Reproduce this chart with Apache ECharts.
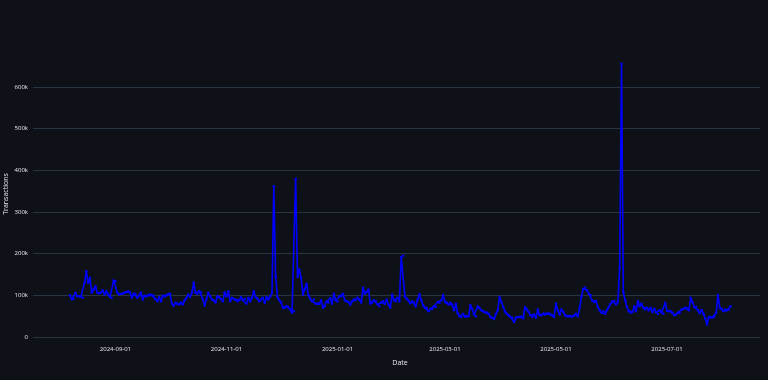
<!DOCTYPE html>
<html>
<head>
<meta charset="utf-8">
<script src="https://cdn.jsdelivr.net/npm/echarts@6/dist/echarts.min.js"></script>
<style>
html,body{margin:0;padding:0;background:#0e1117;}
#chart{width:768px;height:380px;}
</style>
</head>
<body>
<div id="chart"></div>
<script>
// Daily transactions, first day 2024-08-07 (values in thousands)
const startDate = '2024-08-07';
const transactionsK = [
100,90,92,106,98,98,97,94,130,158,
130,142,106,114,122,106,105,106,112,102,
110,102,96,94,136,134,107,102,104,104,
107,108,110,107,94,104,103,94,99,107,
90,99,98,100,102,100,99,91,86,96,
86,99,98,100,103,104,80,75,82,80,
78,83,78,88,94,102,96,106,131,106,
104,110,107,91,75,91,106,98,90,88,
83,98,96,91,86,107,98,110,86,94,
91,90,86,88,96,88,91,80,94,86,
95,110,96,93,86,90,94,82,96,90,
98,106,362,145,96,88,83,70,70,74,
72,66,58,62,379,144,162,142,102,115,
128,100,92,86,90,80,80,80,88,70,
74,85,83,93,80,104,88,85,97,98,
104,88,86,84,78,86,90,89,94,90,
83,118,104,108,114,80,82,88,86,78,
74,83,86,80,90,78,70,102,88,86,
94,86,192,195,98,92,87,81,86,83,
74,90,103,88,76,70,70,62,67,67,
74,72,84,82,88,101,84,83,78,82,
78,64,80,57,50,48,55,49,50,50,
76,67,54,50,73,70,64,62,59,59,
56,48,46,43,55,64,96,84,72,61,
55,52,48,46,36,46,48,48,49,45,
72,66,60,52,48,54,46,66,52,52,
56,54,56,57,54,52,48,80,64,54,
66,60,52,50,50,50,49,51,56,50,
70,97,116,118,113,104,100,87,84,86,
72,64,58,62,56,64,72,80,86,86,
78,84,166,656,107,88,72,62,58,60,
74,62,86,74,80,70,66,70,64,70,
60,68,59,55,64,59,56,82,63,62,
62,58,52,54,58,58,66,67,70,69,
64,94,84,72,72,64,57,65,56,45,
30,48,47,47,49,58,101,70,68,62,
66,64,66,74
];
const xTickLabels = ['2024-09-01','2024-11-01','2025-01-01','2025-03-01','2025-05-01','2025-07-01'];
const yTicks = [0,100000,200000,300000,400000,500000,600000];
const xRange = ['2024-07-17T17:00:00Z','2025-08-21T02:00:00Z'];

const DAY = 86400000;
const t0 = Date.parse(startDate + 'T00:00:00Z');
const seriesData = transactionsK.map((v, i) => [t0 + i * DAY, v * 1000]);
const xTickValues = xTickLabels.map(s => Date.parse(s + 'T00:00:00Z'));

function fmtDate(v) {
  const d = new Date(v);
  const p = n => (n < 10 ? '0' : '') + n;
  return d.getUTCFullYear() + '-' + p(d.getUTCMonth() + 1) + '-' + p(d.getUTCDate());
}

const chart = echarts.init(document.getElementById('chart'), null, {renderer: 'canvas'});
const textColor = '#e8eaf0';
chart.setOption({
  backgroundColor: '#0e1117',
  animation: false,
  textStyle: {fontFamily: 'Open Sans'},
  grid: {left: 33, right: 8, top: 87, bottom: 43, outerBoundsMode: 'none', containLabel: false},
  xAxis: {
    type: 'value',
    min: Date.parse(xRange[0]),
    max: Date.parse(xRange[1]),
    name: 'Date',
    nameLocation: 'middle',
    nameGap: 22,
    nameMoveOverlap: false,
    nameTextStyle: {color: textColor, fontSize: 7, fontFamily: 'Open Sans', padding: [0, 0, 0, 7]},
    axisLine: {show: false},
    axisTick: {show: false},
    splitLine: {show: false},
    axisLabel: {
      customValues: xTickValues,
      color: textColor,
      fontSize: 6,
      fontFamily: 'Open Sans',
      margin: 9,
      formatter: v => fmtDate(v)
    }
  },
  yAxis: {
    type: 'value',
    min: yTicks[0],
    max: yTicks[yTicks.length - 1],
    interval: 100000,
    name: 'Transactions',
    nameLocation: 'middle',
    nameGap: 24,
    nameMoveOverlap: false,
    nameTextStyle: {color: textColor, fontSize: 7, fontFamily: 'Open Sans', padding: [0, 0, 0, 36]},
    axisLine: {show: false},
    axisTick: {show: false},
    splitLine: {show: true, lineStyle: {color: '#283442', width: 1}},
    axisLabel: {
      color: textColor,
      fontSize: 6,
      fontFamily: 'Open Sans',
      margin: 5,
      formatter: v => v === 0 ? '0' : (v / 1000) + 'k'
    }
  },
  series: [{
    type: 'line',
    data: seriesData,
    clip: false,
    showSymbol: true,
    symbol: 'circle',
    symbolSize: 2.5,
    itemStyle: {color: '#0000ff'},
    lineStyle: {color: '#0000ff', width: 1.6}
  }]
});
</script>
</body>
</html>
